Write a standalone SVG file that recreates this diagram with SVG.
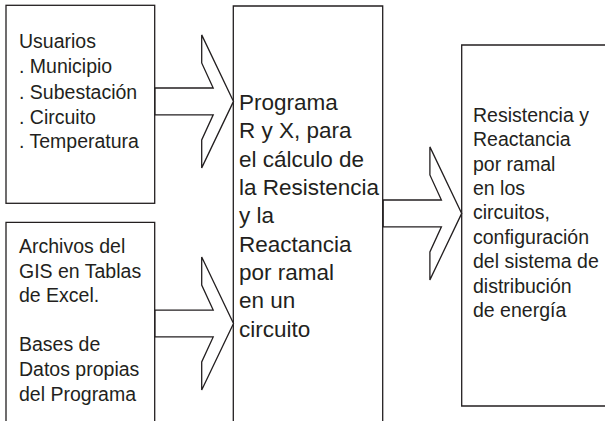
<svg xmlns="http://www.w3.org/2000/svg" xmlns:xlink="http://www.w3.org/1999/xlink" width="605" height="421" viewBox="0 0 605 421">
<style>
.box{fill:#fff;stroke:#231f20;stroke-width:1.3}
.arrow{fill:#fff;stroke:#231f20;stroke-width:1.3;stroke-linejoin:miter}
.t{font-family:"Liberation Sans",Arial,sans-serif;font-size:19.5px;fill:#231f20}
.tc{font-family:"Liberation Sans",Arial,sans-serif;font-size:22.5px;fill:#231f20}
</style>
<defs>
<path id="bigArrow" class="arrow" d="M-78.5,-13.4 H-20.3 L-31.8,-38.5 V-66.5 L0,0 L-31.8,66.5 V38.5 L-20.3,13.4 H-78.5 Z"/>
</defs>
<rect width="605" height="421" fill="#fff"/>
<g id="usuarios">
<rect class="box" x="6" y="5.3" width="148.7" height="198"/>
<text class="t" x="19"><tspan x="19" y="48">Usuarios</tspan><tspan x="19" y="73">. Municipio</tspan><tspan x="19" y="98.5">. Subestación</tspan><tspan x="19" y="123.5">. Circuito</tspan><tspan x="19" y="148">. Temperatura</tspan></text>
</g>
<g id="archivos">
<path class="box" d="M6,425 V222.3 H154.7 V425"/>
<text class="t"><tspan x="19" y="253">Archivos del</tspan><tspan x="19" y="277.6">GIS en Tablas</tspan><tspan x="19" y="302.2">de Excel.</tspan><tspan x="19" y="351.4">Bases de</tspan><tspan x="19" y="376">Datos propias</tspan><tspan x="19" y="400.6">del Programa</tspan></text>
</g>
<g id="programa">
<path class="box" d="M233.3,425 V6 H382.7 V425"/>
<text class="tc"><tspan x="239" y="110">Programa</tspan><tspan x="239" y="138.3">R y X, para</tspan><tspan x="239" y="166.7">el cálculo de</tspan><tspan x="239" y="195">la Resistencia</tspan><tspan x="239" y="223.3">y la</tspan><tspan x="239" y="251.7">Reactancia</tspan><tspan x="239" y="280">por ramal</tspan><tspan x="239" y="308.3">en un</tspan><tspan x="239" y="336.7">circuito</tspan></text>
</g>
<g id="resultado">
<path class="box" d="M610,45 H461.7 V406 H610"/>
<text class="t"><tspan x="473" y="121.7">Resistencia y</tspan><tspan x="473" y="146.1">Reactancia</tspan><tspan x="473" y="170.5">por ramal</tspan><tspan x="473" y="194.9">en los</tspan><tspan x="473" y="219.3">circuitos,</tspan><tspan x="473" y="243.7">configuración</tspan><tspan x="473" y="268.1">del sistema de</tspan><tspan x="473" y="292.5">distribución</tspan><tspan x="473" y="316.9">de energía</tspan></text>
</g>
<g id="connectors">
<use xlink:href="#bigArrow" transform="translate(233.5,101.4)"/>
<use xlink:href="#bigArrow" transform="translate(233.5,323.5)"/>
<use xlink:href="#bigArrow" transform="translate(461.7,213.4)"/>
</g>
</svg>
